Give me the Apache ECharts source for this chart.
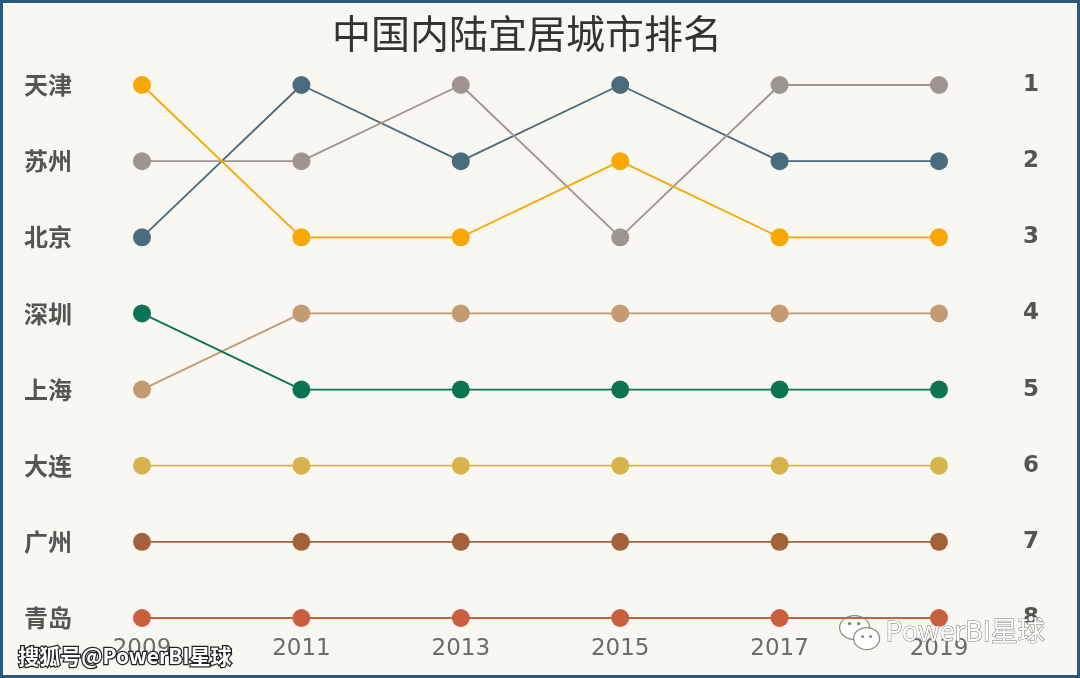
<!DOCTYPE html>
<html>
<head>
<meta charset="utf-8">
<script src="https://cdn.jsdelivr.net/npm/echarts@6/dist/echarts.min.js"></script>
<style>
html,body{margin:0;padding:0;background:#F8F7F2;}
#c{width:1080px;height:678px;box-sizing:border-box;border:3px solid #2B5A7C;}
</style>
</head>
<body>
<div id="c"></div>
<script>
const years = ['2009','2011','2013','2015','2017','2019'];
const cities = ['天津','苏州','北京','深圳','上海','大连','广州','青岛'];
const rankTianjin   = [1,3,3,2,3,3];
const rankSuzhou    = [2,2,1,3,1,1];
const rankBeijing   = [3,1,2,1,2,2];
const rankShenzhen  = [4,5,5,5,5,5];
const rankShanghai  = [5,4,4,4,4,4];
const rankDalian    = [6,6,6,6,6,6];
const rankGuangzhou = [7,7,7,7,7,7];
const rankQingdao   = [8,8,8,8,8,8];
const rankLabels = ['1','2','3','4','5','6','7','8'];
const colors = ['#F8A800','#9E958D','#4A6B7B','#0B7553','#C49A72','#D6B44C','#A4623A','#C95F3F'];

const allRanks = [rankTianjin,rankSuzhou,rankBeijing,rankShenzhen,rankShanghai,rankDalian,rankGuangzhou,rankQingdao];
const leftName = {};
cities.forEach((c,i)=>{ leftName[allRanks[i][0]] = c; });

const chart = echarts.init(document.getElementById('c'), null, {renderer:'canvas'});
const yBase = {
  type:'value', inverse:true, min:1, max:8, interval:1,
  axisLine:{show:false}, axisTick:{show:false}, splitLine:{show:false}
};
chart.setOption({
  backgroundColor:'#F8F7F2',
  title:{text:'中国内陆宜居城市排名', left:324, top:6,
    textStyle:{fontFamily:'Noto Sans CJK SC', fontSize:39, fontWeight:'normal', color:'#333'}},
  grid:{left:139, right:138, top:82, bottom:57},
  xAxis:{type:'category', data:years, boundaryGap:false,
    axisLine:{show:false}, axisTick:{show:false}, splitLine:{show:false},
    axisLabel:{margin:20, fontSize:23, color:'#6b6b6b', fontFamily:'DejaVu Sans'}},
  yAxis:[
    Object.assign({}, yBase, {position:'left',
      axisLabel:{margin:118, align:'left', fontSize:24, fontWeight:'bold', color:'#555', fontFamily:'Noto Sans CJK SC',
        padding:[0,0,7,0], formatter:v=>leftName[v]||''}}),
    Object.assign({}, yBase, {position:'right',
      axisLabel:{margin:84, align:'left', fontSize:23, fontWeight:'bold', color:'#555', fontFamily:'DejaVu Sans',
        padding:[4,0,0,0], formatter:v=>rankLabels[v-1]||''}})
  ],
  series: cities.map((c,i)=>({
    name:c, type:'line', data:allRanks[i], symbol:'circle', symbolSize:18,
    lineStyle:{width:1.8, color:colors[i]}, itemStyle:{color:colors[i]},
    z: 10 - i
  })),
  graphic:[
    {type:'text', left:14, top:641, z:100,
      style:{text:'搜狐号@PowerBI星球', fontSize:21, fontWeight:'bold', fontFamily:'Noto Sans CJK SC',
        fill:'#fff', stroke:'#222', lineWidth:2.5}},
    {type:'group', left:836, top:612, z:100, children:[
      {type:'ellipse', shape:{cx:15, cy:13, rx:15, ry:12}, style:{fill:'#fff', stroke:'#888', lineWidth:1.2}},
      {type:'ellipse', shape:{cx:27, cy:24, rx:13, ry:11}, style:{fill:'#fff', stroke:'#888', lineWidth:1.2}},
      {type:'circle', shape:{cx:10, cy:9, r:1.6}, style:{fill:'#777'}},
      {type:'circle', shape:{cx:19, cy:9, r:1.6}, style:{fill:'#777'}},
      {type:'circle', shape:{cx:23, cy:22, r:1.4}, style:{fill:'#777'}},
      {type:'circle', shape:{cx:31, cy:22, r:1.4}, style:{fill:'#777'}}
    ]},
    {type:'text', left:882, top:614, z:100,
      style:{text:'PowerBI星球', fontSize:27, fontFamily:'Noto Sans CJK SC',
        fill:'#fff', stroke:'#777', lineWidth:1}}
  ]
});
</script>
</body>
</html>
